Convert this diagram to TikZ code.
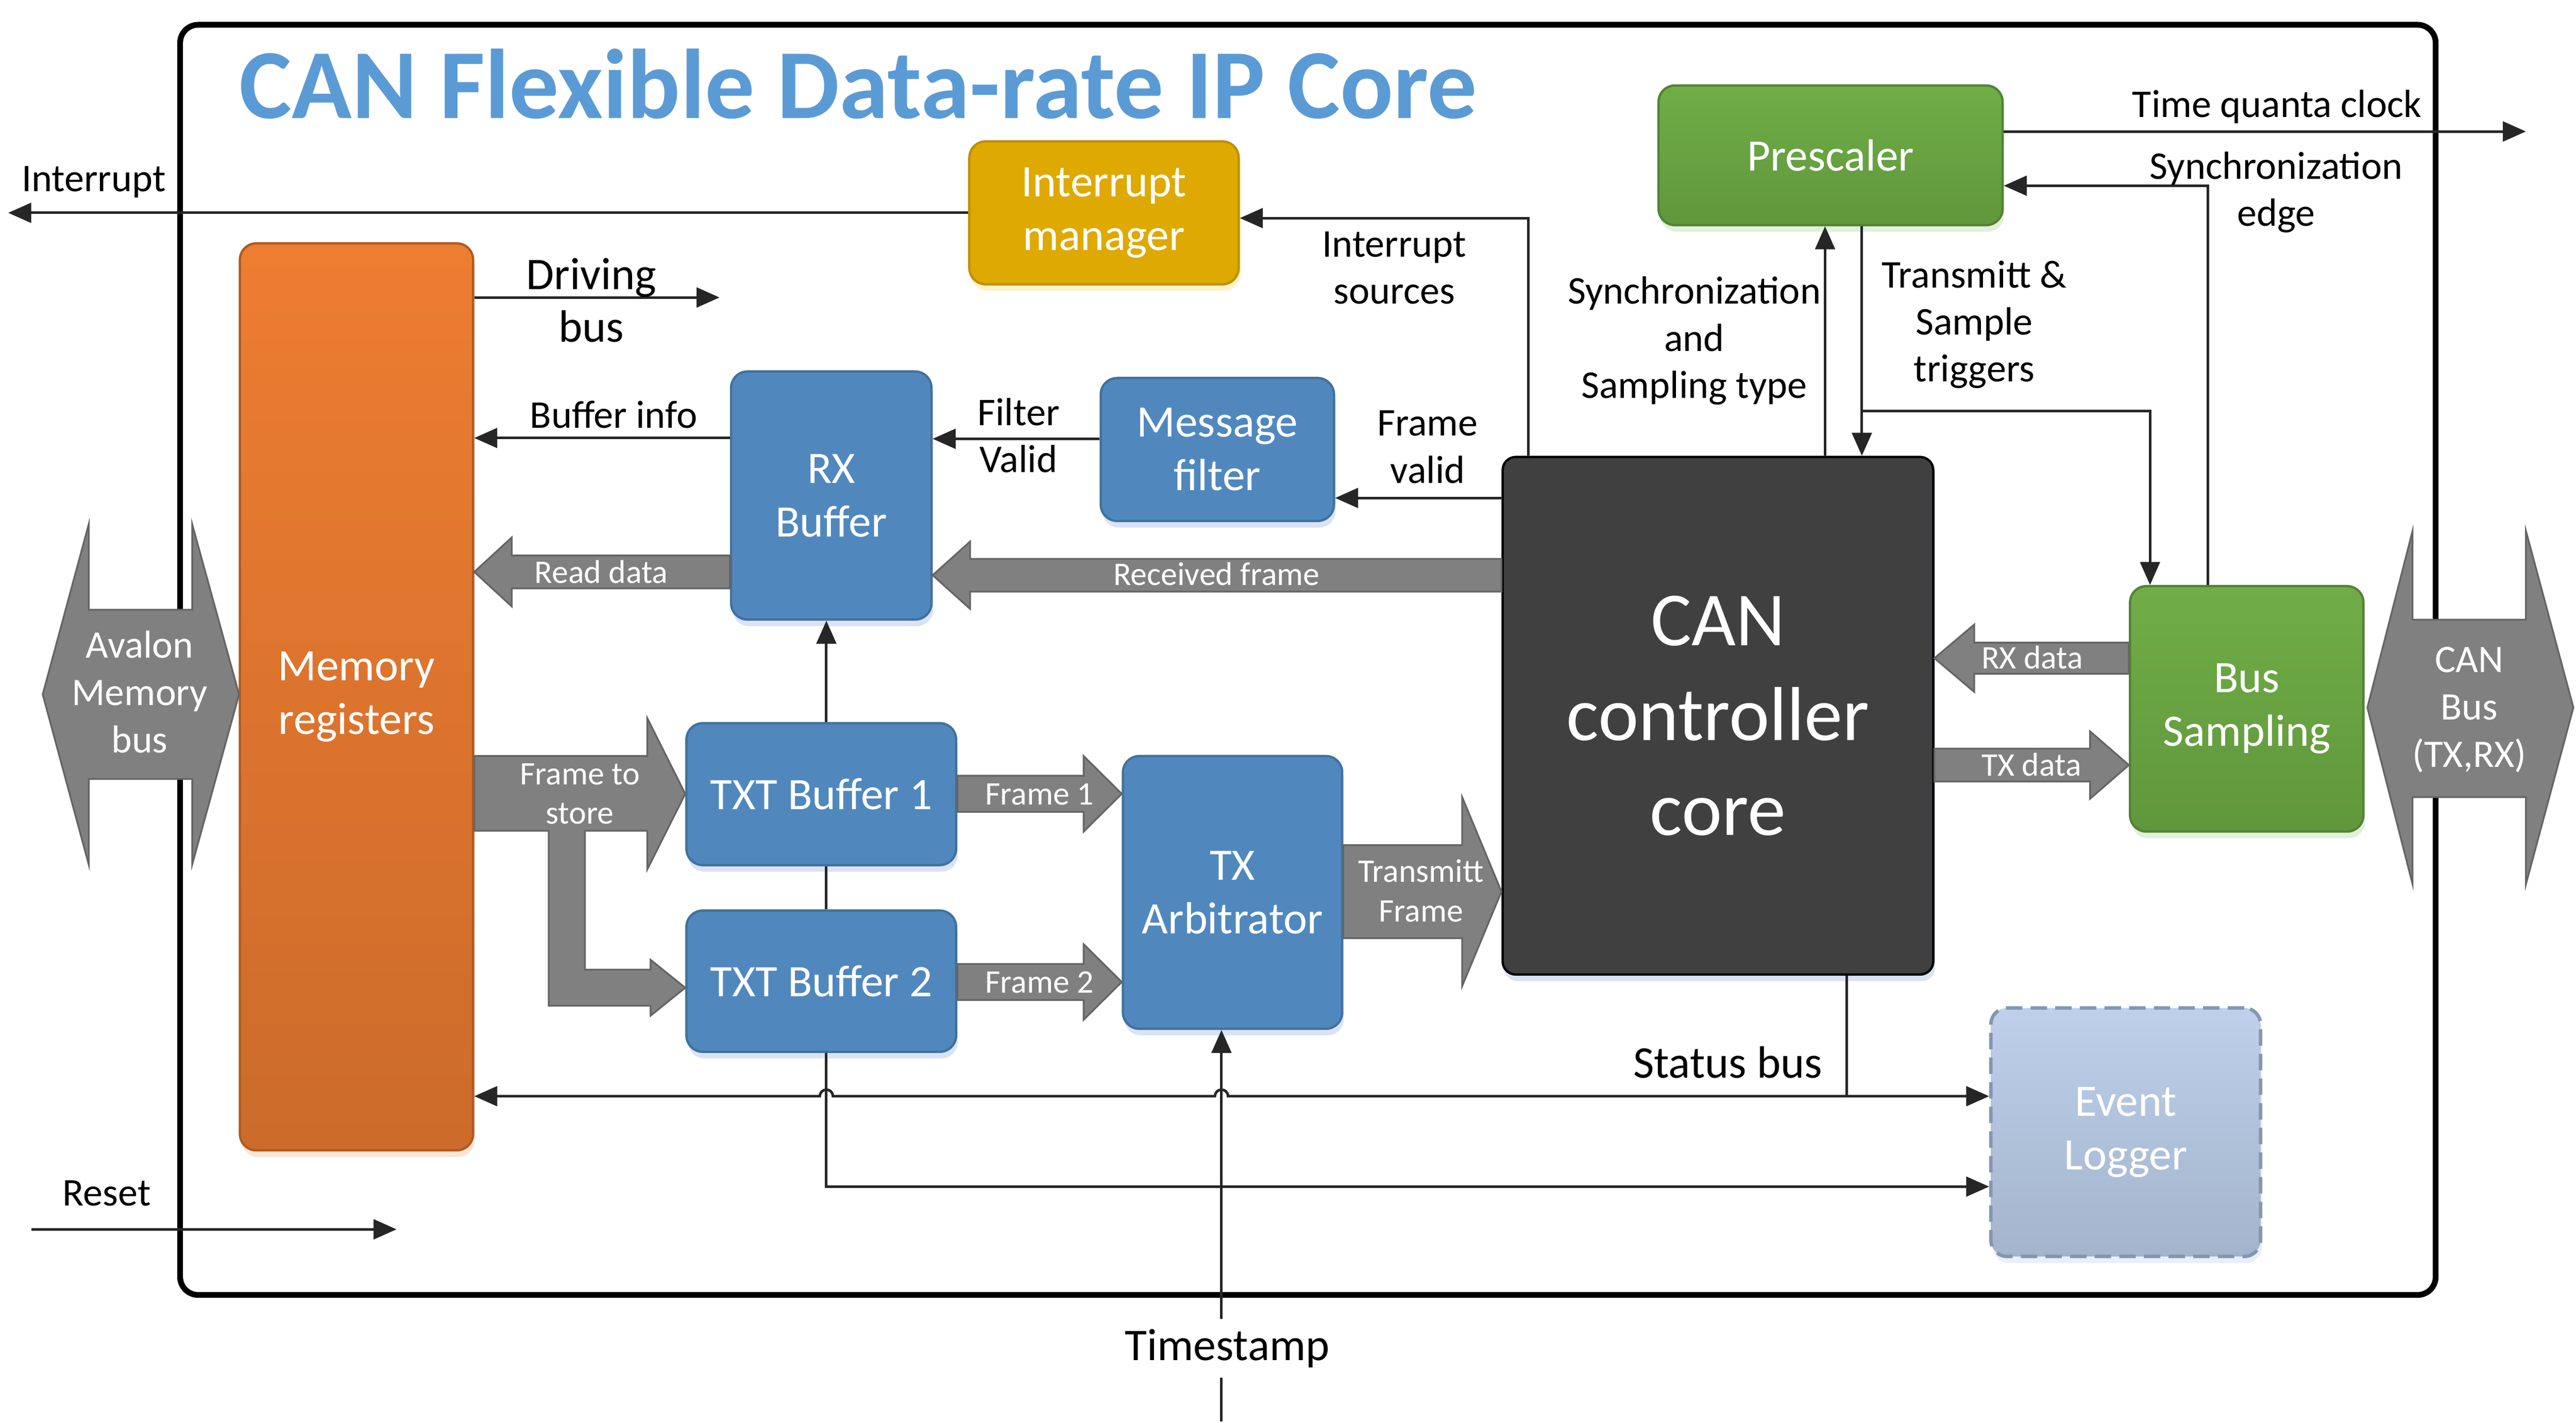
\documentclass[tikz,border=0pt]{standalone}
\usepackage{fontspec}
\setmainfont{Carlito}
\usetikzlibrary{arrows.meta,shadows}

\definecolor{titleblue}{RGB}{91,155,213}
\definecolor{boxblue}{RGB}{80,136,190}
\definecolor{boxblueline}{RGB}{65,113,156}
\definecolor{shblue}{RGB}{218,227,243}
\definecolor{orgtop}{RGB}{237,125,49}
\definecolor{orgbot}{RGB}{204,107,43}
\definecolor{orgline}{RGB}{174,90,33}
\definecolor{shorg}{RGB}{251,229,214}
\definecolor{goldfill}{RGB}{222,169,0}
\definecolor{goldline}{RGB}{191,144,0}
\definecolor{shgold}{RGB}{255,242,204}
\definecolor{grntop}{RGB}{112,173,71}
\definecolor{grnbot}{RGB}{96,151,60}
\definecolor{grnline}{RGB}{84,130,53}
\definecolor{shgrn}{RGB}{226,239,218}
\definecolor{coregray}{RGB}{64,64,64}
\definecolor{logtop}{RGB}{190,208,234}
\definecolor{logbot}{RGB}{163,180,204}
\definecolor{logline}{RGB}{132,151,176}
\definecolor{arrgray}{RGB}{128,128,128}
\definecolor{arrline}{RGB}{100,100,100}
\definecolor{wire}{RGB}{38,38,38}

\begin{document}
\begin{tikzpicture}[x=0.02cm,y=-0.02cm,color=wire,>={Triangle[length=0.28cm,width=0.24cm]}]
        \tikzstyle{every path}=[line width=0.9pt]
        \tikzstyle{box} = [draw, rectangle, rounded corners=0.2cm, inner sep=0pt, line width=0.8pt, align=center, text=white, font=\fontsize{15.6}{18.6}\selectfont]
        \tikzstyle{bluebox} = [box, fill=boxblue, draw=boxblueline, drop shadow={shadow xshift=0.02cm,shadow yshift=-0.08cm,fill=shblue,opacity=1}]
        \tikzstyle{greenbox} = [box, top color=grntop, bottom color=grnbot, draw=grnline, drop shadow={shadow xshift=0.02cm,shadow yshift=-0.08cm,fill=shgrn,opacity=1}]
        \tikzstyle{lbl} = [inner sep=0pt, align=center, text=black, font=\fontsize{13.6}{16.3}\selectfont]
        \tikzstyle{biglbl} = [inner sep=0pt, text=black, font=\fontsize{15.7}{18.6}\selectfont]
        \tikzstyle{blk} = [fill=arrgray, draw=arrline, line width=0.6pt]
        \tikzstyle{blklbl} = [inner sep=0pt, align=center, text=white, font=\fontsize{11.4}{13.6}\selectfont]
        \tikzstyle{dblarrow} = [fill=arrgray, draw=arrline, line width=0.6pt]
        % frame and title
        \node[draw=black, line width=2pt, rounded corners=0.22cm, minimum width=27.464cm, minimum height=15.46cm](ipcore) at (796.1,401.5){};
        \node[anchor=base west, inner sep=0pt, text=titleblue, font=\fontsize{34.3}{40}\selectfont\bfseries](title) at (145,72){CAN Flexible Data-rate IP Core};
        % blocks
        \node[box, fill=goldfill, draw=goldline, drop shadow={shadow xshift=0.02cm,shadow yshift=-0.08cm,fill=shgold,opacity=1}, minimum width=3.28cm, minimum height=1.74cm](intm) at (672,129.5){Interrupt\\manager};
        \node[box, top color=orgtop, bottom color=orgbot, draw=orgline, drop shadow={shadow xshift=0.02cm,shadow yshift=-0.08cm,fill=shorg,opacity=1}, minimum width=2.84cm, minimum height=11.04cm](memreg) at (217,424){Memory\\registers};
        \node[bluebox, minimum width=2.44cm, minimum height=3.02cm](rxbuf) at (506,301.5){RX\\Buffer};
        \node[bluebox, minimum width=2.84cm, minimum height=1.74cm](msgfilt) at (741,273.5){Message\\filter};
        \node[bluebox, minimum width=3.284cm, minimum height=1.728cm](txtbuf1) at (499.9,483.2){TXT Buffer 1};
        \node[bluebox, minimum width=3.284cm, minimum height=1.72cm](txtbuf2) at (499.9,597){TXT Buffer 2};
        \node[bluebox, minimum width=2.67cm, minimum height=3.32cm](txarb) at (750.25,543){TX\\Arbitrator};
        \node[greenbox, minimum width=4.19cm, minimum height=1.7cm](presc) at (1114.25,94.5){Prescaler};
        \node[greenbox, minimum width=2.842cm, minimum height=2.988cm](bussamp) at (1367.55,431.3){Bus\\Sampling};
        \node[box, fill=coregray, draw=black, rounded corners=0.16cm, font=\fontsize{26.5}{32.9}\selectfont, drop shadow={shadow xshift=0.02cm,shadow yshift=-0.08cm,fill=shblue,opacity=1}, minimum width=5.244cm, minimum height=6.3cm](core) at (1045.7,435.5){CAN\\controller\\core};
        \node[box, top color=logtop, bottom color=logbot, draw=logline, line width=1.2pt, dash pattern=on 0.2cm off 0.1cm, drop shadow={shadow xshift=0.02cm,shadow yshift=-0.08cm,fill=shblue!60,opacity=1}, minimum width=3.284cm, minimum height=3.024cm](evlog) at (1293.9,688.9){Event\\Logger};
        % free ends
        \coordinate (irqout) at (5,129.5);
        \coordinate (drvend) at (438,181);
        \coordinate (tqout) at (1537.5,80);
        \coordinate (trigsplit) at (1133.3,250);
        \coordinate (tsin) at (743.5,865);
        \coordinate (rstin) at (19,748);
        \coordinate (rstend) at (241.4,748);
        % signals
        \draw[->] (intm.west) -- (intm.west -| irqout);
        \node[lbl, anchor=base](irqlbl) at (57,116.5){Interrupt};
        \draw[->] (core.north -| 930.3,0) |- (intm.east |- 0,132.7);
        \node[lbl](irqsrc) at (848.7,163){Interrupt\\sources};
        \draw[->] (memreg.east |- drvend) -- (drvend);
        \node[biglbl, anchor=base](drvlbl) at (360,176){Driving};
        \node[biglbl, anchor=base](buslbl) at (360,208){bus};
        \draw[->] (rxbuf.west |- 0,266.5) -- (memreg.east |- 0,266.5);
        \node[lbl, anchor=base](bufinfo) at (373.5,260.5){Buffer info};
        \draw[->] (msgfilt.west |- 0,267) -- (rxbuf.east |- 0,267);
        \node[lbl](fltvalid) at (620,265){Filter\\Valid};
        \draw[->] (core.west |- 0,303) -- (msgfilt.east |- 0,303);
        \node[lbl](frmvalid) at (869,272){Frame\\valid};
        \draw[->] (core.north -| 1110.9,0) -- (presc.south -| 1110.9,0);
        \node[lbl](synctype) at (1031.3,207.4){Synchronization\\and\\Sampling type};
        \draw[->] (presc.south -| trigsplit) -- (core.north -| trigsplit);
        \draw[->] (trigsplit) -| (bussamp.north -| 1308.7,0);
        \node[lbl](triggers) at (1201.7,197.5){Transmitt \&\\Sample\\triggers};
        \draw[->] (bussamp.north -| 1344,0) |- (presc.east |- 0,113);
        \node[lbl](syncedge) at (1385.5,117){Synchronization\\edge};
        \draw[->] (presc.east |- tqout) -- (tqout);
        \node[lbl, anchor=base](tqlbl) at (1386,71.2){Time quanta clock};
        \draw[->] (txtbuf1.north -| 503,0) -- (rxbuf.south -| 503,0);
        \draw (txtbuf1.south -| 503,0) -- (txtbuf2.north -| 503,0);
        \draw[->] (txtbuf2.south -| 503,0) |- (evlog.west |- 0,722);
        \draw[<->] (memreg.east |- 0,667) -- (499,667) arc (180:360:4) -- (739.5,667) arc (180:360:4) -- (evlog.west |- 0,667);
        \draw (core.south -| 1124,0) -- (1124,667);
        \node[biglbl, anchor=base east](statlbl) at (1110,656){Status bus};
        \node[biglbl, anchor=base, inner sep=3pt](tslbl) at (747,827.6){Timestamp};
        \draw (tsin) -- (tsin |- tslbl.south);
        \draw[->] (tsin |- tslbl.north) -- (txarb.south -| tsin);
        \draw[->] (rstin) -- (rstend);
        \node[lbl, anchor=base](rstlbl) at (65,733.5){Reset};
        % data paths
        \draw[blk] (rxbuf.west |- 0,338) -- (311.5,338) -- (311.5,327) -- (memreg.east |- 0,348) -- (311.5,369) -- (311.5,358) -- (rxbuf.west |- 0,358) -- cycle;
        \node[blklbl, anchor=base](rddata) at (366,354.7){Read data};
        \draw[blk] (core.west |- 0,340) -- (590.5,340) -- (590.5,329.5) -- (rxbuf.east |- 0,350) -- (590.5,370.5) -- (590.5,360) -- (core.west |- 0,360) -- cycle;
        \node[blklbl, anchor=base](rxframe) at (740.5,356){Received frame};
        \draw[blk] (memreg.east |- 0,460) -- (394,460) -- (394,437) -- (txtbuf1.west |- 0,483) -- (394,529) -- (394,505.5) -- (356,505.5) -- (356,590) -- (396,590) -- (396,584) -- (txtbuf2.west |- 0,601) -- (396,618) -- (396,612) -- (334,612) -- (334,505.5) -- (memreg.east |- 0,505.5) -- cycle;
        \node[blklbl](tostore) at (353,483){Frame to\\store};
        \draw[blk] (txtbuf1.east |- 0,472) -- (659.6,472) -- (659.6,460) -- (txarb.west |- 0,483) -- (659.6,506) -- (659.6,494) -- (txtbuf1.east |- 0,494) -- cycle;
        \node[blklbl, anchor=base](frame1) at (632.7,489.6){Frame 1};
        \draw[blk] (txtbuf2.east |- 0,586.5) -- (659.6,586.5) -- (659.6,574.5) -- (txarb.west |- 0,597.5) -- (659.6,620.5) -- (659.6,608.5) -- (txtbuf2.east |- 0,608.5) -- cycle;
        \node[blklbl, anchor=base](frame2) at (632.7,604){Frame 2};
        \draw[blk] (txarb.east |- 0,514.2) -- (890,514.2) -- (890,485) -- (core.west |- 0,542.5) -- (890,600) -- (890,570.8) -- (txarb.east |- 0,570.8) -- cycle;
        \node[blklbl](txframe) at (865,542){Transmitt\\Frame};
        \draw[blk] (bussamp.west |- 0,391) -- (1201.7,391) -- (1201.7,380) -- (core.east |- 0,400.5) -- (1201.7,421) -- (1201.7,410) -- (bussamp.west |- 0,410) -- cycle;
        \node[blklbl, anchor=base](rxdata) at (1237,407){RX data};
        \draw[blk] (core.east |- 0,455.5) -- (1272.2,455.5) -- (1272.2,445) -- (bussamp.west |- 0,465.5) -- (1272.2,486) -- (1272.2,475.5) -- (core.east |- 0,475.5) -- cycle;
        \node[blklbl, anchor=base](txdata) at (1236.5,472){TX data};
        % external buses
        \draw[dblarrow] (26,422.5) -- (54,319) -- (54,371) -- (117,371) -- (117,319) -- (145.5,422.5) -- (117,526) -- (117,474) -- (54,474) -- (54,526) -- cycle;
        \node[lbl, text=white, font=\fontsize{13.5}{16.4}\selectfont](avalon) at (85,421){Avalon\\Memory\\bus};
        \draw[dblarrow] (1441,430.5) -- (1468.5,323) -- (1468.5,377) -- (1537.5,377) -- (1537.5,323) -- (1566.4,430.5) -- (1537.5,538) -- (1537.5,485) -- (1468.5,485) -- (1468.5,538) -- cycle;
        \node[lbl, text=white, font=\fontsize{13.5}{16.4}\selectfont](canbus) at (1503,432){CAN\\Bus\\(TX,RX)};
        \useasboundingbox (0,0) rectangle (1568,864.6);
    \end{tikzpicture}
\end{document}
